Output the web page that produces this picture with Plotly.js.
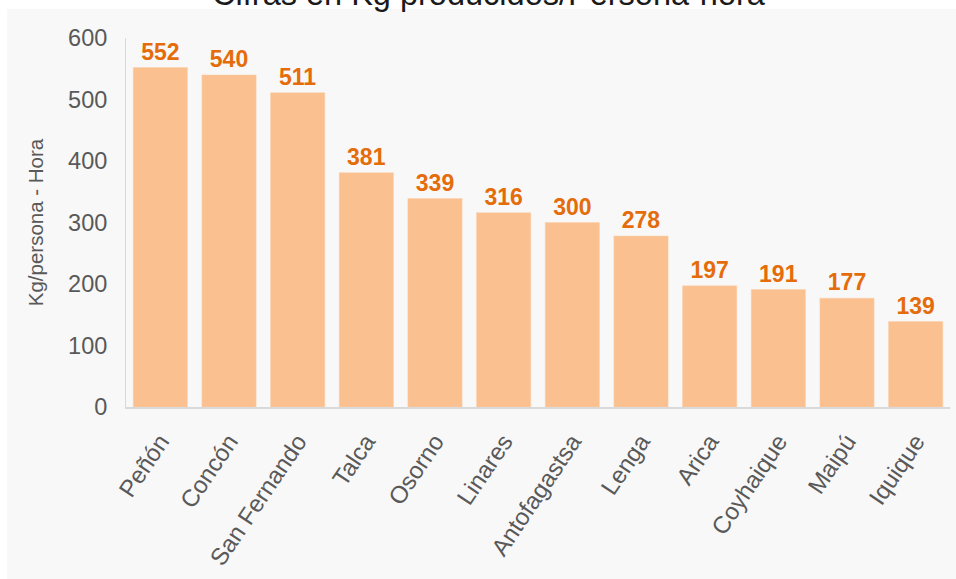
<!DOCTYPE html>
<html>
<head>
<meta charset="utf-8">
<script src="https://cdn.plot.ly/plotly-3.0.1.min.js"></script>
<style>
  html, body { margin: 0; padding: 0; background: #ffffff; }
  #bg { position: absolute; left: 7px; top: 9px; width: 949px; height: 570px; background: #f8f8f8; }
  #chart { position: absolute; left: 0; top: 0; width: 956px; height: 579px; }
</style>
</head>
<body>
<div id="bg"></div>
<div id="chart"></div>
<script>
const plants = ["Peñón", "Concón", "San Fernando", "Talca", "Osorno", "Linares",
                "Antofagastsa", "Lenga", "Arica", "Coyhaique", "Maipú", "Iquique"];
const kgPerPersonHour = [552, 540, 511, 381, 339, 316, 300, 278, 197, 191, 177, 139];
const yTicks = [0, 100, 200, 300, 400, 500, 600];

const FONT = "Liberation Sans, Arial, Helvetica, sans-serif";

const trace = {
  type: "bar",
  x: plants,
  y: kgPerPersonHour,
  marker: { color: "#fac090", line: { color: "#fbd0aa", width: 0.5 } },
  text: kgPerPersonHour.map(String),
  textposition: "outside",
  cliponaxis: false,
  textfont: { family: FONT, size: 23, color: "#e46c0a", weight: "bold" },
  hoverinfo: "x+y"
};

const layout = {
  width: 956,
  height: 579,
  margin: { l: 126, r: 6, t: 38, b: 172, pad: 0 },
  paper_bgcolor: "rgba(0,0,0,0)",
  plot_bgcolor: "rgba(0,0,0,0)",
  showlegend: false,
  bargap: 0.21,
  title: {
    text: "Cifras en Kg producidos/Persona-hora",
    font: { family: FONT, size: 32.5, color: "#1a1a1a" },
    x: 0.511, xanchor: "center", xref: "container",
    y: 0.9914, yanchor: "bottom", yref: "container"
  },
  xaxis: {
    type: "category",
    showgrid: false,
    zeroline: false,
    showline: true,
    linecolor: "#d9d9d9",
    linewidth: 2,
    ticks: "",
    tickangle: -56,
    ticklabelstandoff: 9,
    tickfont: { family: FONT, size: 24, color: "#595959" }
  },
  yaxis: {
    range: [0, 600],
    tickvals: yTicks,
    showgrid: false,
    zeroline: false,
    showline: true,
    linecolor: "#d9d9d9",
    linewidth: 1,
    ticks: "",
    ticklabelstandoff: 13,
    tickfont: { family: FONT, size: 23.5, color: "#595959" },
    title: {
      text: "Kg/persona - Hora",
      font: { family: FONT, size: 20.5, color: "#595959" },
      standoff: 18
    }
  }
};

Plotly.newPlot("chart", [trace], layout, { displayModeBar: false, responsive: false });
</script>
</body>
</html>
